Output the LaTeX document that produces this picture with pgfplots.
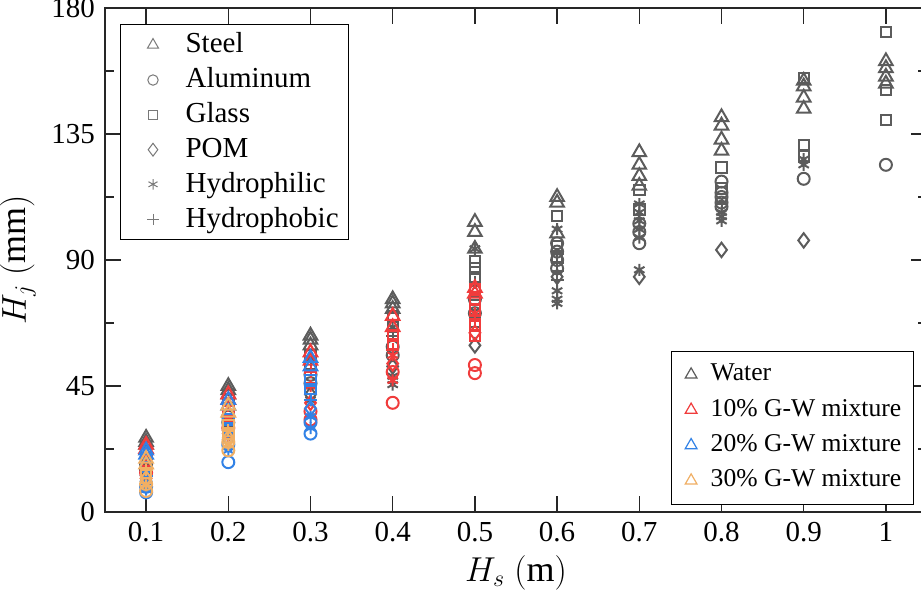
\documentclass[border=0pt]{standalone}
\usepackage{pgfplots}
\pgfplotsset{compat=1.18}
\usepackage{fontspec}
\setmainfont{Liberation Serif}

\definecolor{cWater}{RGB}{92,92,92}
\definecolor{cTen}{RGB}{240,60,60}
\definecolor{cTwenty}{RGB}{50,130,230}
\definecolor{cThirty}{RGB}{240,175,100}
\definecolor{cAxis}{RGB}{38,38,38}
\definecolor{cKey}{RGB}{120,120,120}

\pgfplotsset{
  pts/.style={only marks, mark options={solid, line width=1pt, fill=none}},
  steel/.style={pts, mark=triangle, mark size=3.9pt},
  alu/.style={pts, mark=o, mark size=3pt},
  glass/.style={pts, mark=square, mark size=2.6pt},
  pom/.style={pts, mark=diamond, mark size=3.6pt},
  philic/.style={pts, mark=asterisk, mark size=3pt},
  phobic/.style={pts, mark=+, mark size=3.2pt},
  frame/.style={
    scale only axis, width=411pt, height=252pt,
    xmin=0.05, xmax=1.05, ymin=0, ymax=180,
  },
  % key symbol: one mark inside a fixed-width slot
  keyA/.style={legend image code/.code={%
    \path (0pt,0pt) (27pt,0pt);
    \draw[only marks,##1] plot coordinates {(13pt,0pt)};}},
  keyB/.style={legend image code/.code={%
    \path (0pt,0pt) (13pt,0pt);
    \draw[only marks,##1] plot coordinates {(5.5pt,0pt)};}},
  keystyle/.style={
    draw=black, line width=0.6pt, fill=white,
    inner xsep=4pt, inner ysep=2pt,
    cells={anchor=west},
  },
}

\begin{document}
\fontsize{14.5}{17}\selectfont
\begin{tikzpicture}
\begin{axis}[
  frame, at={(0,0)},
  xtick={0.1,0.2,0.3,0.4,0.5,0.6,0.7,0.8,0.9,1},
  xticklabels={0.1,0.2,0.3,0.4,0.5,0.6,0.7,0.8,0.9,1},
  ytick={0,45,90,135,180},
  minor y tick num=1,
  tick align=inside,
  major tick length=8pt, minor tick length=4.5pt,
  every tick/.style={cAxis, line width=0.7pt},
  axis line style={cAxis, line width=0.9pt},
  ticklabel style={font=\fontsize{14.5}{17}\selectfont},
  /pgf/number format/assume math mode=true,
  xlabel={$H_s\ (\mathrm{m})$},
  ylabel={$H_j\ (\mathrm{mm})$},
  label style={font=\fontsize{18}{21}\selectfont},
  xlabel style={yshift=3pt},
  ylabel style={yshift=-2pt},
  legend style={keystyle, font=\fontsize{12.8}{15.5}\selectfont, row sep=3pt,
    inner ysep=4.5pt, at={(0.984,0.014)}, anchor=south east},
]
% ---- water ----
\addplot[steel, cWater, forget plot] coordinates {
 (0.1,26.5)(0.1,25)(0.1,24)
 (0.2,45)(0.2,43.5)(0.2,42)
 (0.3,63)(0.3,61.5)(0.3,59.5)
 (0.4,76)(0.4,74.5)(0.4,72.5)
 (0.5,103.6)(0.5,100)(0.5,94)
 (0.6,112.5)(0.6,110.5)(0.6,99.5)
 (0.7,128.5)(0.7,124)(0.7,120)(0.7,116.5)
 (0.8,141)(0.8,138)(0.8,133)(0.8,129)
 (0.9,154)(0.9,152)(0.9,148)(0.9,144)
 (1,161)(1,158.5)(1,155.5)(1,153)};
\addplot[alu, cWater, forget plot] coordinates {
 (0.1,17)(0.1,15)(0.2,34)(0.2,32)(0.3,49)(0.3,46)(0.4,59)(0.4,56)
 (0.5,76)(0.5,71)(0.6,96)(0.6,93)(0.6,90)(0.6,87)(0.7,103)(0.7,100)(0.7,96)
 (0.8,118)(0.8,114)(0.8,112.5)(0.8,110.5)(0.8,109)(0.9,119)(1,124)};
\addplot[glass, cWater, forget plot] coordinates {
 (0.1,21)(0.1,19)(0.2,40)(0.2,37)(0.3,56)(0.3,53)(0.4,70)(0.4,66)
 (0.5,89.5)(0.5,87)(0.5,84)(0.5,79)(0.5,74)(0.5,68)(0.6,105.7)(0.6,95)(0.6,91)
 (0.7,115)(0.7,108)(0.8,123)(0.8,115.5)(0.9,155)(0.9,131)(0.9,127)
 (1,171.5)(1,150.7)(1,140)};
\addplot[pom, cWater, forget plot] coordinates {
 (0.1,13)(0.2,29)(0.3,42)(0.4,52)(0.5,59.5)(0.6,84)(0.7,84)(0.8,93.6)(0.9,97)};
\addplot[philic, cWater, forget plot] coordinates {
 (0.1,11)(0.2,27)(0.3,40)(0.4,45.5)(0.4,48.5)(0.4,66)(0.5,94)(0.5,70)
 (0.6,101)(0.6,79)(0.6,76)(0.6,74.5)(0.7,110)(0.7,107)(0.7,104)(0.7,101)(0.7,98)(0.7,86.5)
 (0.8,107)(0.8,105.5)(0.8,104)(0.9,124)(0.9,126)};
\addplot[phobic, cWater, forget plot] coordinates {
 (0.1,19)(0.2,38)(0.3,51)(0.4,63)(0.5,82)(0.6,92)(0.6,89)(0.6,86)(0.6,83)(0.7,106)(0.8,110)};
% ---- 10% glycerol-water ----
\addplot[steel, cTen, forget plot] coordinates {
 (0.1,24)(0.1,22.5)(0.2,42)(0.2,40)(0.3,57)(0.3,54)(0.4,70)(0.4,66)(0.5,80)(0.5,78)};
\addplot[alu, cTen, forget plot] coordinates {
 (0.1,14)(0.2,30)(0.3,33)(0.3,36)(0.4,39)(0.4,50)(0.5,52.5)(0.5,49.6)};
\addplot[glass, cTen, forget plot] coordinates {
 (0.1,18)(0.2,36)(0.3,48)(0.4,63)(0.4,60)(0.5,79.5)(0.5,76)(0.5,72)(0.5,66.5)(0.5,63)};
\addplot[pom, cTen, forget plot] coordinates {
 (0.1,12)(0.2,28)(0.3,39)(0.4,53)(0.5,64)};
\addplot[philic, cTen, forget plot] coordinates {
 (0.1,16)(0.2,33)(0.3,45)(0.4,56)(0.4,47)(0.5,71)};
\addplot[phobic, cTen, forget plot] coordinates {
 (0.1,20)(0.2,38)(0.3,50)(0.4,58)(0.5,69)};
% ---- 20% glycerol-water ----
\addplot[steel, cTwenty, forget plot] coordinates {
 (0.1,22)(0.1,20.5)(0.2,40)(0.2,38)(0.3,55)(0.3,52)};
\addplot[alu, cTwenty, forget plot] coordinates {
 (0.1,7)(0.1,9)(0.2,17.8)(0.2,24)(0.3,28)(0.3,32)};
\addplot[glass, cTwenty, forget plot] coordinates {
 (0.1,16)(0.2,33)(0.2,30)(0.3,47)(0.3,44)};
\addplot[pom, cTwenty, forget plot] coordinates {
 (0.1,11)(0.2,26)(0.3,37)};
\addplot[philic, cTwenty, forget plot] coordinates {
 (0.1,8)(0.2,22)(0.3,30)(0.3,34)};
\addplot[phobic, cTwenty, forget plot] coordinates {
 (0.1,13)(0.2,28)(0.3,40)};
% ---- 30% glycerol-water ----
\addplot[steel, cThirty, forget plot] coordinates {
 (0.1,19)(0.1,17)(0.2,38)(0.2,35.5)};
\addplot[alu, cThirty, forget plot] coordinates {
 (0.1,7.5)(0.1,10)(0.2,22)(0.2,25)};
\addplot[glass, cThirty, forget plot] coordinates {
 (0.1,14)(0.2,31)(0.2,28)};
\addplot[pom, cThirty, forget plot] coordinates {
 (0.1,12)(0.2,26.5)};
\addplot[philic, cThirty, forget plot] coordinates {
 (0.1,9.5)(0.2,24)};
\addplot[phobic, cThirty, forget plot] coordinates {
 (0.1,15)(0.2,29)};
% liquid key
\addlegendimage{keyB, only marks, mark=triangle, mark size=3.4pt, cWater, mark options={line width=0.6pt}}
\addlegendentry{Water}
\addlegendimage{keyB, only marks, mark=triangle, mark size=3.4pt, cTen, mark options={line width=0.6pt}}
\addlegendentry{10\% G-W mixture}
\addlegendimage{keyB, only marks, mark=triangle, mark size=3.4pt, cTwenty, mark options={line width=0.6pt}}
\addlegendentry{20\% G-W mixture}
\addlegendimage{keyB, only marks, mark=triangle, mark size=3.4pt, cThirty, mark options={line width=0.6pt}}
\addlegendentry{30\% G-W mixture}
\end{axis}
% material key
\begin{axis}[
  frame, at={(0,0)}, hide axis,
  legend style={keystyle, font=\fontsize{14.5}{17}\selectfont, row sep=1.3pt,
    inner xsep=3pt, at={(0.018,0.968)}, anchor=north west},
]
\addlegendimage{keyA, only marks, mark=triangle, mark size=3.2pt, cKey, mark options={line width=0.5pt}}
\addlegendentry{Steel}
\addlegendimage{keyA, only marks, mark=o, mark size=2.6pt, cKey, mark options={line width=0.5pt}}
\addlegendentry{Aluminum}
\addlegendimage{keyA, only marks, mark=square, mark size=2.3pt, cKey, mark options={line width=0.5pt}}
\addlegendentry{Glass}
\addlegendimage{keyA, only marks, mark=diamond, mark size=3.2pt, cKey, mark options={line width=0.5pt}}
\addlegendentry{POM}
\addlegendimage{keyA, only marks, mark=asterisk, mark size=2.6pt, cKey, mark options={line width=0.5pt}}
\addlegendentry{Hydrophilic}
\addlegendimage{keyA, only marks, mark=+, mark size=2.8pt, cKey, mark options={line width=0.5pt}}
\addlegendentry{Hydrophobic}
\end{axis}
\pgfresetboundingbox
\path (-52.5pt,-42pt) rectangle (408pt,256pt);
\end{tikzpicture}
\end{document}
